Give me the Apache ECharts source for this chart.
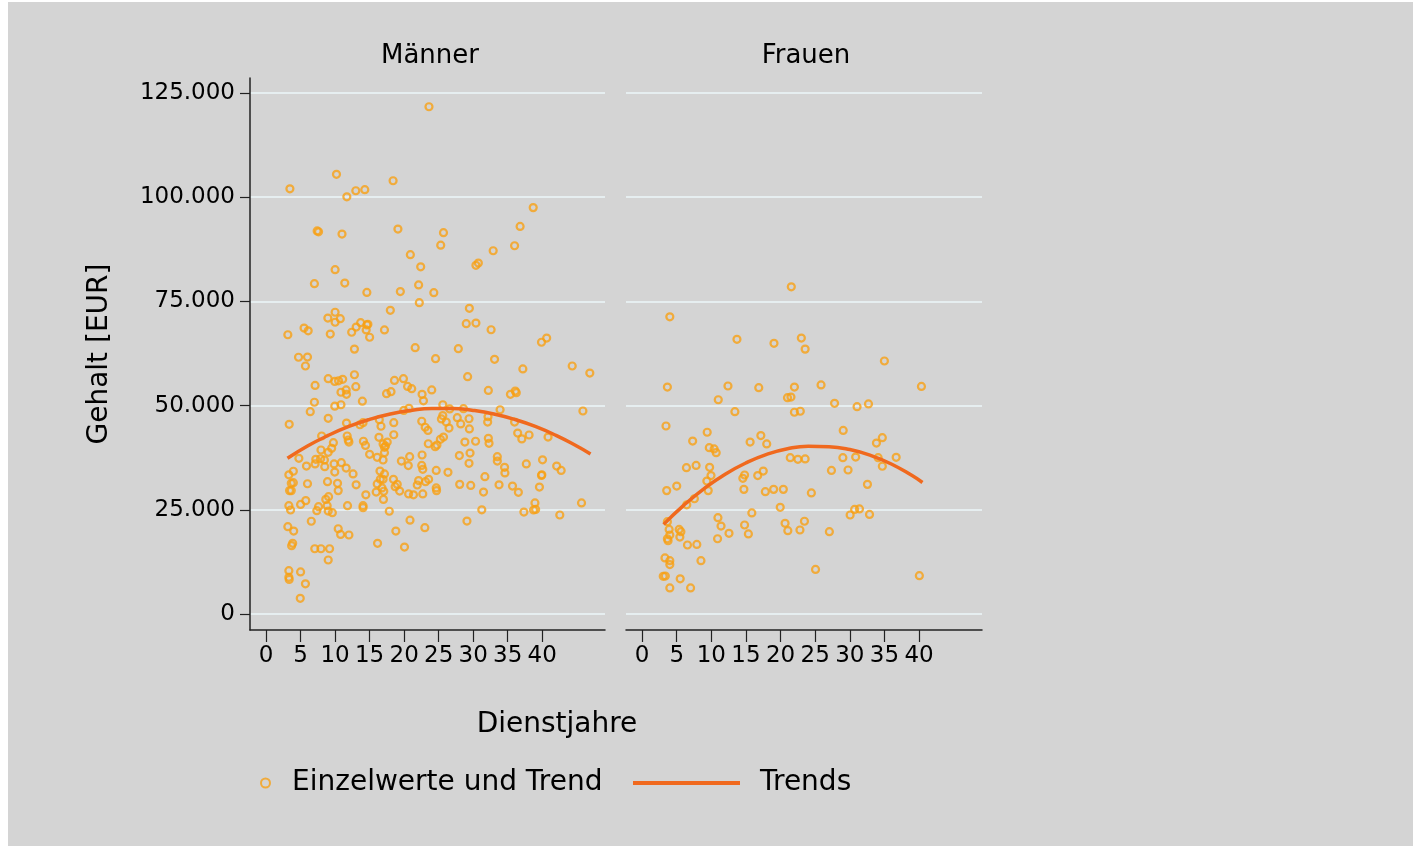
<!DOCTYPE html>
<html>
<head>
<meta charset="utf-8">
<script src="https://cdn.jsdelivr.net/npm/echarts@6/dist/echarts.min.js"></script>
<style>
  html, body { margin: 0; padding: 0; background: #fff; }
  #chart { position: absolute; left: 8px; top: 2px; width: 1405px; height: 844px; }
</style>
</head>
<body>
<div id="chart"></div>
<script>
// Männer: Dienstjahre / Gehalt
const menX = [23.6, 10.2, 3.45, 18.4, 13.0, 14.3, 11.7, 38.7, 36.8, 7.4, 7.6, 11.0, 19.1, 25.7, 25.3, 36.0, 32.9, 20.9, 22.4, 30.75,
  30.4, 10.0, 7.0, 11.4, 14.6, 19.45, 22.1, 24.3, 22.2, 29.45, 18.0, 29.0, 30.4, 32.6, 39.9, 40.65, 3.15, 5.5, 6.1, 8.95,
  10.0, 10.0, 10.75, 9.3, 12.4, 13.05, 13.7, 14.6, 14.75, 14.5, 15.0, 17.15, 12.8, 21.6, 27.85, 4.7, 6.0, 24.55, 33.1,
  5.7, 12.8, 29.2, 37.2, 44.35, 46.9, 9.0, 9.95, 10.5, 11.1, 7.1, 13.0, 18.6, 19.9, 20.5, 21.1, 17.45, 18.1, 10.85, 11.6,
  11.65, 22.6, 22.8, 24.0, 32.2, 35.4, 36.1, 36.25, 13.95, 7.0, 6.4, 9.95, 10.85, 9.0, 3.35, 11.65, 13.6, 14.05, 16.4, 16.65,
  18.5, 19.95, 20.7, 22.55, 23.05, 23.45, 25.6, 25.6, 25.4, 26.1, 26.5, 26.6, 27.7, 28.2, 28.6, 29.4, 29.45, 32.15, 32.1, 33.9,
  36.0, 45.9, 8.05, 4.75, 11.75, 11.9, 12.0, 14.1, 14.4, 15.0, 16.35, 16.1, 18.5, 16.95, 17.15, 17.15, 16.95, 17.55, 17.3, 23.5,
  24.5, 24.75, 25.25, 25.7, 28.8, 30.35, 32.2, 32.3, 36.45, 37.05, 38.1, 40.85, 7.95, 7.2, 7.9, 8.45, 8.5, 9.0, 9.5, 9.75,
  7.1, 5.85, 9.95, 9.85, 10.9, 11.6, 12.6, 3.3, 3.95, 3.65, 3.95, 3.4, 3.65, 3.3, 3.55, 6.0, 5.0, 5.75, 7.35, 7.6,
  8.65, 9.05, 8.85, 9.0, 9.6, 8.9, 10.35, 10.45, 11.8, 13.05, 14.45, 14.05, 14.05, 16.1, 15.95, 16.5, 16.55, 17.15, 16.95, 16.8,
  17.05, 17.0, 17.85, 18.45, 19.0, 18.7, 19.35, 19.6, 20.6, 20.8, 20.65, 21.35, 21.9, 22.1, 22.6, 22.55, 22.7, 22.7, 23.1, 23.55,
  24.65, 24.65, 24.7, 26.35, 28.0, 29.55, 29.4, 28.05, 29.65, 31.7, 31.5, 31.25, 33.5, 33.5, 34.55, 34.6, 33.75, 35.7, 36.55, 37.7,
  40.05, 39.95, 39.9, 39.6, 37.35, 38.95, 38.75, 39.05, 42.1, 42.75, 45.7, 42.55, 3.15, 4.0, 3.85, 3.7, 6.55, 10.45, 10.8, 12.0,
  7.05, 7.95, 9.2, 9.0, 16.15, 18.8, 20.05, 20.85, 23.0, 29.1, 3.3, 3.3, 3.35, 5.0, 5.7, 4.95];
const menY = [121700, 105500, 102000, 103950, 101550, 101800, 100100, 97500, 93000, 91900, 91700, 91150, 92350, 91500, 88500, 88350, 87150, 86200, 83300, 84200,
  83650, 82600, 79250, 79400, 77150, 77350, 78950, 77100, 74700, 73350, 72850, 69650, 69800, 68200, 65200, 66200, 67000, 68600, 67950, 71000,
  72400, 70000, 70850, 67150, 67600, 68850, 69900, 69350, 69500, 68150, 66400, 68150, 63550, 63900, 63650, 61600, 61650, 61250, 61100,
  59500, 57400, 56950, 58800, 59500, 57800, 56450, 55800, 55950, 56300, 54850, 54550, 56050, 56450, 54600, 54050, 52850, 53350, 53200, 53750,
  52700, 52700, 51150, 53750, 53650, 52700, 53500, 53100, 51050, 50800, 48550, 49850, 50200, 46950, 45500, 45800, 45400, 45900, 46600, 45050,
  45900, 48850, 49350, 46250, 44800, 44050, 50200, 47600, 46800, 46050, 44600, 49200, 47100, 45600, 49250, 46850, 44400, 47350, 46050, 49000,
  46050, 48700, 42700, 37350, 42700, 41750, 41250, 41450, 40450, 38300, 42400, 37600, 43000, 40800, 40000, 38700, 36950, 41250, 40300, 40850,
  40150, 40550, 41900, 42450, 41250, 41450, 42150, 40950, 43400, 42000, 42950, 42450, 39350, 37100, 37250, 36950, 35350, 38800, 39750, 41100,
  36000, 35500, 34050, 36000, 36300, 35000, 33600, 33400, 34250, 31350, 31500, 29600, 29600, 26000, 24950, 31250, 26300, 27200, 24800, 25750,
  27500, 28150, 26000, 24700, 24300, 31750, 31350, 29600, 26000, 31000, 28600, 26000, 25500, 31200, 29250, 34300, 32300, 33600, 32300, 30250,
  29450, 27500, 24650, 32300, 31100, 30550, 29500, 36700, 35600, 37750, 28800, 28600, 30950, 32000, 38150, 35650, 34700, 28800, 31750, 32300,
  34450, 30250, 29600, 34000, 38000, 38600, 36150, 31100, 30850, 32950, 29250, 25000, 37750, 36700, 35200, 33850, 31000, 30700, 29200, 36000,
  37000, 33400, 33250, 30450, 24450, 26650, 24950, 25100, 35500, 34450, 26650, 23750, 20950, 19900, 16950, 16400, 22250, 20450, 19100, 18950,
  15650, 15650, 15650, 12950, 16950, 19900, 16050, 22500, 20700, 22300, 10400, 8800, 8300, 10100, 7250, 3750];

// Frauen: Dienstjahre / Gehalt
const womenX = [21.55, 4.0, 13.7, 19.05, 23.0, 23.55, 35.0, 3.65, 12.4, 16.85, 22.0, 25.85, 40.35, 21.0, 21.5, 11.0, 13.4, 22.0, 22.85, 27.8,
  31.05, 32.7, 3.45, 9.4, 7.3, 15.6, 17.15, 18.0, 9.7, 10.4, 10.7, 29.05, 33.85, 34.7, 21.4, 22.5, 23.55, 29.0, 30.85, 34.1,
  34.7, 36.7, 27.35, 29.75, 32.55, 6.4, 7.8, 9.75, 9.95, 9.35, 9.55, 14.8, 14.55, 16.7, 17.5, 14.7, 17.8, 19.0, 20.4, 24.45,
  3.55, 5.0, 6.45, 7.55, 19.95, 15.85, 10.95, 11.4, 10.9, 14.8, 15.35, 12.55, 20.65, 21.05, 22.8, 23.45, 27.05, 30.05, 30.7, 31.4,
  32.85, 25.05, 40.05, 3.65, 3.9, 4.0, 3.65, 3.75, 5.35, 5.6, 5.45, 6.55, 7.9, 8.5, 3.3, 4.0, 4.0, 3.05, 3.35, 5.5, 4.0, 7.0];
const womenY = [78500, 71300, 65900, 64950, 66200, 63550, 60700, 54450, 54700, 54300, 54450, 54950, 54600, 51900, 52050, 51400, 48550, 48400, 48650, 50550,
  49750, 50400, 45100, 43600, 41500, 41250, 42800, 40800, 39900, 39600, 38700, 44050, 41000, 42300, 37500, 37100, 37200, 37500, 37650, 37500,
  35450, 37600, 34450, 34550, 31100, 35100, 35650, 35200, 33200, 31900, 29600, 33350, 32550, 33200, 34300, 29900, 29350, 29900, 29900, 29050,
  29600, 30700, 26200, 27650, 25600, 24250, 23100, 21100, 18050, 21350, 19200, 19350, 21750, 20000, 20150, 22250, 19750, 23750, 25100, 25200,
  23900, 10700, 9200, 22150, 20300, 18950, 18050, 17600, 20300, 19750, 18450, 16550, 16700, 12800, 13450, 12800, 11850, 9050, 9100, 8450, 6250, 6250];

// Trendkurven
const menTrendX = [3.1, 6, 9, 12, 15, 18, 21, 24, 27, 30, 33, 36, 39, 42, 45, 47];
const menTrendY = [37350, 40300, 42850, 45000, 46700, 48000, 48850, 49300, 49300, 48850, 48000, 46700, 45000, 42850, 40300, 38400];
const womenTrendX = [3.1, 6, 9, 12, 15, 18, 21, 24, 27, 30, 33, 36, 39, 40.5];
const womenTrendY = [21500, 26050, 30150, 33550, 36250, 38300, 39650, 40250, 40150, 39450, 38050, 36000, 33200, 31550];

const xTicks = [0, 5, 10, 15, 20, 25, 30, 35, 40];
const yTicks = [0, 25000, 50000, 75000, 100000, 125000];

const FONT = 'DejaVu Sans';
const pointColor = '#f7a014';
const trendColor = '#f0691e';

const fmtY = v => String(v).replace(/\B(?=(\d{3})+(?!\d))/g, '.');
const pairs = (xs, ys) => xs.map((x, i) => [x, ys[i]]);

const chart = echarts.init(document.getElementById('chart'));

function makeX(idx) {
  return {
    gridIndex: idx, type: 'value', min: -2.33, max: 49.1,
    axisLine: { show: true, onZero: false, lineStyle: { color: '#222', width: 1.5 } },
    axisTick: { show: true, length: 12, customValues: xTicks, lineStyle: { color: '#222', width: 1.2 } },
    axisLabel: { customValues: xTicks, color: '#000', fontSize: 23, fontFamily: FONT, margin: 15 },
    splitLine: { show: false }
  };
}

function makeY(idx, visible) {
  return {
    gridIndex: idx, type: 'value', min: -3840, max: 128600,
    axisLine: { show: visible, onZero: false, lineStyle: { color: '#222', width: 1.5 } },
    axisTick: { show: visible, length: 10, customValues: yTicks, lineStyle: { color: '#222', width: 1.2 } },
    axisLabel: { show: visible, customValues: yTicks, color: '#000', fontSize: 23, fontFamily: FONT, margin: 15, formatter: fmtY },
    splitLine: { show: true, lineStyle: { color: '#e6eef0', width: 2 } },
    name: visible ? 'Gehalt [EUR]' : '',
    nameLocation: 'middle', nameGap: 136,
    nameTextStyle: { fontSize: 28, fontFamily: FONT, color: '#000' }
  };
}

const scatterStyle = { color: 'rgba(0,0,0,0)', borderColor: pointColor, borderWidth: 2.2 };

chart.setOption({
  backgroundColor: '#d4d4d4',
  animation: false,
  textStyle: { fontFamily: FONT },
  title: [
    { text: 'Männer', left: 422, top: 41, textAlign: 'center', padding: 0, textStyle: { fontSize: 26, fontWeight: 'normal', color: '#000', fontFamily: FONT } },
    { text: 'Frauen', left: 798, top: 41, textAlign: 'center', padding: 0, textStyle: { fontSize: 26, fontWeight: 'normal', color: '#000', fontFamily: FONT } },
    { text: 'Dienstjahre', left: 549, top: 709, textAlign: 'center', padding: 0, textStyle: { fontSize: 28, fontWeight: 'normal', color: '#000', fontFamily: FONT } }
  ],
  legend: [
    {
      data: [{ name: 'Einzelwerte und Trend', icon: 'circle' }], left: 252, top: 767, padding: 0,
      itemWidth: 9, itemHeight: 9,
      textStyle: { fontSize: 28, color: '#000', fontFamily: FONT, padding: [0, 0, 0, 17] }
    },
    {
      data: [{ name: 'Trends', icon: 'rect' }], left: 625, top: 767, padding: 0,
      itemWidth: 107, itemHeight: 4,
      itemStyle: { color: trendColor },
      textStyle: { fontSize: 28, color: '#000', fontFamily: FONT, padding: [0, 0, 0, 15] }
    }
  ],
  grid: [
    { left: 242, top: 76, width: 355, height: 552 },
    { left: 618, top: 76, width: 356, height: 552 }
  ],
  xAxis: [makeX(0), makeX(1)],
  yAxis: [makeY(0, true), makeY(1, false)],
  series: [
    {
      name: 'Einzelwerte und Trend', type: 'scatter', xAxisIndex: 0, yAxisIndex: 0,
      symbol: 'circle', symbolSize: 7, itemStyle: scatterStyle, data: pairs(menX, menY)
    },
    {
      name: 'Einzelwerte und Trend', type: 'scatter', xAxisIndex: 1, yAxisIndex: 1,
      symbol: 'circle', symbolSize: 7, itemStyle: scatterStyle, data: pairs(womenX, womenY)
    },
    {
      name: 'Trends', type: 'line', xAxisIndex: 0, yAxisIndex: 0, smooth: true, symbol: 'none', z: 5,
      lineStyle: { color: trendColor, width: 3.5 }, itemStyle: { color: trendColor },
      data: pairs(menTrendX, menTrendY)
    },
    {
      name: 'Trends', type: 'line', xAxisIndex: 1, yAxisIndex: 1, smooth: true, symbol: 'none', z: 5,
      lineStyle: { color: trendColor, width: 3.5 }, itemStyle: { color: trendColor },
      data: pairs(womenTrendX, womenTrendY)
    }
  ]
});
</script>
</body>
</html>
